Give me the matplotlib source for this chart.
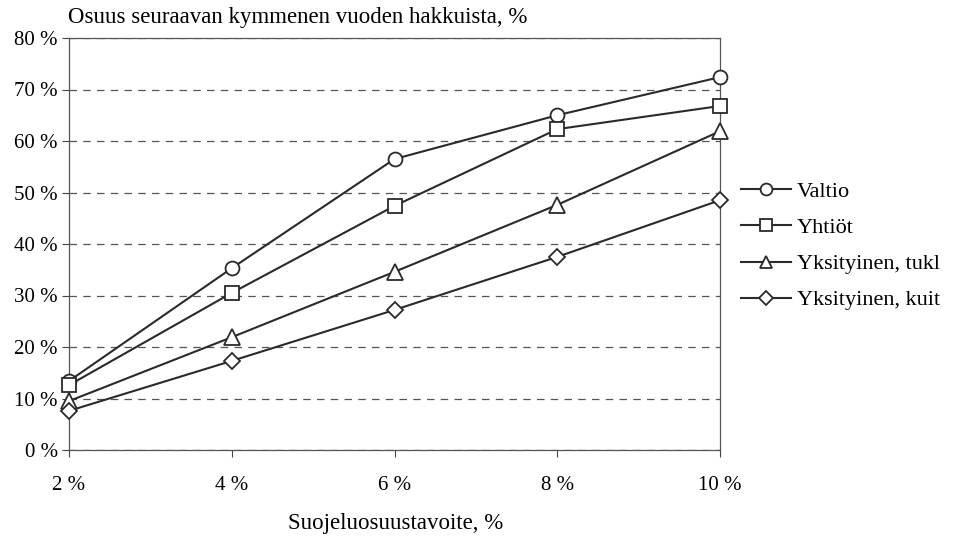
import matplotlib
matplotlib.use("Agg")
import matplotlib.pyplot as plt

categories = ["2 %", "4 %", "6 %", "8 %", "10 %"]
valtio = [13.4, 35.3, 56.5, 65.0, 72.4]
yhtiot = [12.6, 30.5, 47.4, 62.3, 66.8]
tukki = [9.5, 21.9, 34.6, 47.6, 61.9]
kuitu = [7.6, 17.3, 27.2, 37.5, 48.5]
labels = ["Valtio", "Yhtiöt", "Yksityinen, tukl", "Yksityinen, kuit"]
yticks = [0, 10, 20, 30, 40, 50, 60, 70, 80]

plt.rcParams['font.family'] = ['Liberation Serif', 'DejaVu Serif']

fig = plt.figure(figsize=(9.57, 5.37), dpi=100)
ax = fig.add_axes([69/957, 1-450/537, (720-69)/957, (450-38)/537])

x = list(range(len(categories)))
col = '#2a2a2a'
for vals, m, lab, ms in zip([valtio, yhtiot, tukki, kuitu], ['o', 's', '^', 'D'], labels, [10, 10, 11, 8.5]):
    ax.plot(x, vals, color=col, lw=1.5, marker=m, markersize=ms,
            markerfacecolor='white', markeredgecolor=col, markeredgewidth=1.3,
            label=lab, clip_on=False, zorder=3)

ax.set_xlim(0, 4)
ax.set_ylim(0, 80)
ax.set_xticks(x)
ax.set_xticklabels(categories, fontsize=15)
ax.set_yticks(yticks)
ax.set_yticklabels([f"{v} %" for v in yticks], fontsize=15)
ax.tick_params(axis='x', length=5, pad=14, color='#444444')
ax.tick_params(axis='y', length=5, pad=3, color='#444444')
ax.yaxis.grid(True, linestyle=(0, (6, 5)), color='#555555', lw=0.9)
for s in ax.spines.values():
    s.set_color('#555555')
    s.set_linewidth(0.9)

fig.text(68/957, 1-17/537, "Osuus seuraavan kymmenen vuoden hakkuista, %", fontsize=16.5,
         ha='left', va='center')
fig.text(396/957, 1-523/537, "Suojeluosuustavoite, %", fontsize=16.5, ha='center', va='center')

leg = ax.legend(loc='center left', bbox_to_anchor=(741/957, 1-246/537),
                bbox_transform=fig.transFigure, frameon=False, fontsize=16,
                handlelength=2.25, handletextpad=0.25, labelspacing=0.7,
                borderpad=0, borderaxespad=0, markerscale=0.85)

fig.savefig("out.png", dpi=100)
